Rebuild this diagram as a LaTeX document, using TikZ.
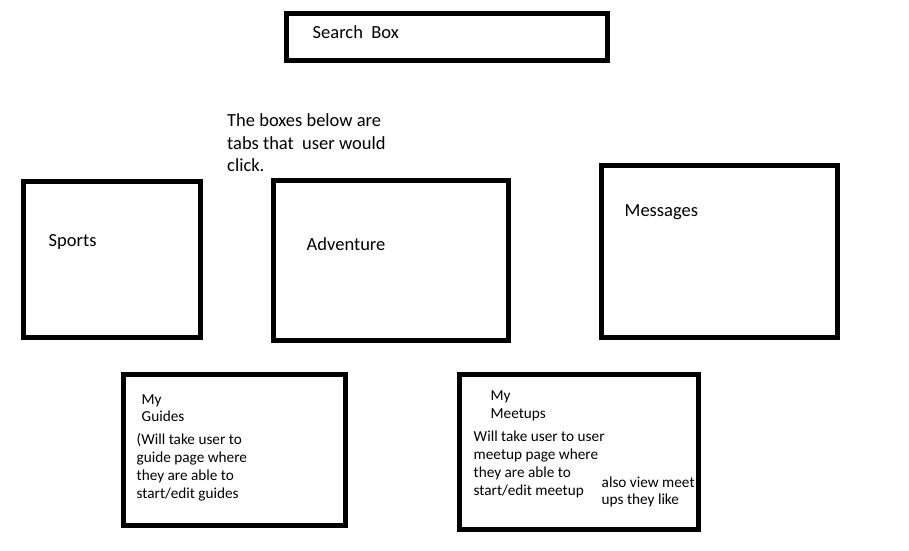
\documentclass[tikz,border=0pt]{standalone}
\usepackage{fontspec}
\setmainfont{Carlito}
\usepackage{tikz}
\usetikzlibrary{positioning}
\tikzset{tab/.style={draw,line width=5bp,rectangle,inner sep=0pt}}
\tikzset{bigtxt/.style={anchor=base west,inner sep=0pt,align=left,xshift=2bp,yshift=-3bp,font=\fontsize{18.5bp}{22.5bp}\selectfont}}
\tikzset{smalltxt/.style={anchor=base west,inner sep=0pt,align=left,xshift=2bp,yshift=-3bp,font=\fontsize{15.25bp}{18bp}\selectfont}}

\begin{document}
\begin{tikzpicture}[x=1bp,y=-1bp]
                \useasboundingbox (0,0) rectangle (909,551);
                \node[tab,minimum width=321bp,minimum height=47bp] (search) at (447,37) {};
                \node[tab,minimum width=177bp,minimum height=156bp] (sports) at (112,259.5) {};
                \node[tab,minimum width=235bp,minimum height=160bp] (adventure) at (391,260.5) {};
                \node[tab,minimum width=236bp,minimum height=172bp] (messages) at (719.5,251.5) {};
                \node[tab,minimum width=222bp,minimum height=151bp] (guides) at (234.5,450) {};
                \node[tab,minimum width=239bp,minimum height=155bp] (meetups) at (579,452) {};
                % multi-line texts sit on their last line
                \node[bigtxt] (searchlbl) at ([shift={(26.5,24.5)}]search.north west) {Search\ \ Box};
                \node[bigtxt] (note) at (225,169) {The boxes below are\\tabs that\ \ user would\\click.};
                \node[bigtxt] (sportslbl) at ([shift={(25.5,64.5)}]sports.north west) {Sports};
                \node[bigtxt] (adventurelbl) at ([shift={(33.5,69.5)}]adventure.north west) {Adventure};
                \node[bigtxt] (messageslbl) at ([shift={(23.5,50.5)}]messages.north west) {Messages};
                \node[smalltxt,font=\fontsize{15.25bp}{17bp}\selectfont] (guideslbl) at ([shift={(18.5,46.5)}]guides.north west) {My\\Guides};
                \node[smalltxt] (guidestxt) at ([shift={(13.5,123.5)}]guides.north west) {(Will take user to\\guide page where\\they are able to\\start/edit guides};
                \node[smalltxt] (meetupslbl) at ([shift={(31.5,43.5)}]meetups.north west) {My\\Meetups};
                \node[smalltxt] (meetupstxt) at ([shift={(14.5,120.5)}]meetups.north west) {Will take user to user\\meetup page where\\they are able to\\start/edit meetup};
                \node[smalltxt,font=\fontsize{15.25bp}{17bp}\selectfont] (meetupsside) at ([shift={(142.5,129.5)}]meetups.north west) {also view meet\\ups they like};
            \end{tikzpicture}
\end{document}
